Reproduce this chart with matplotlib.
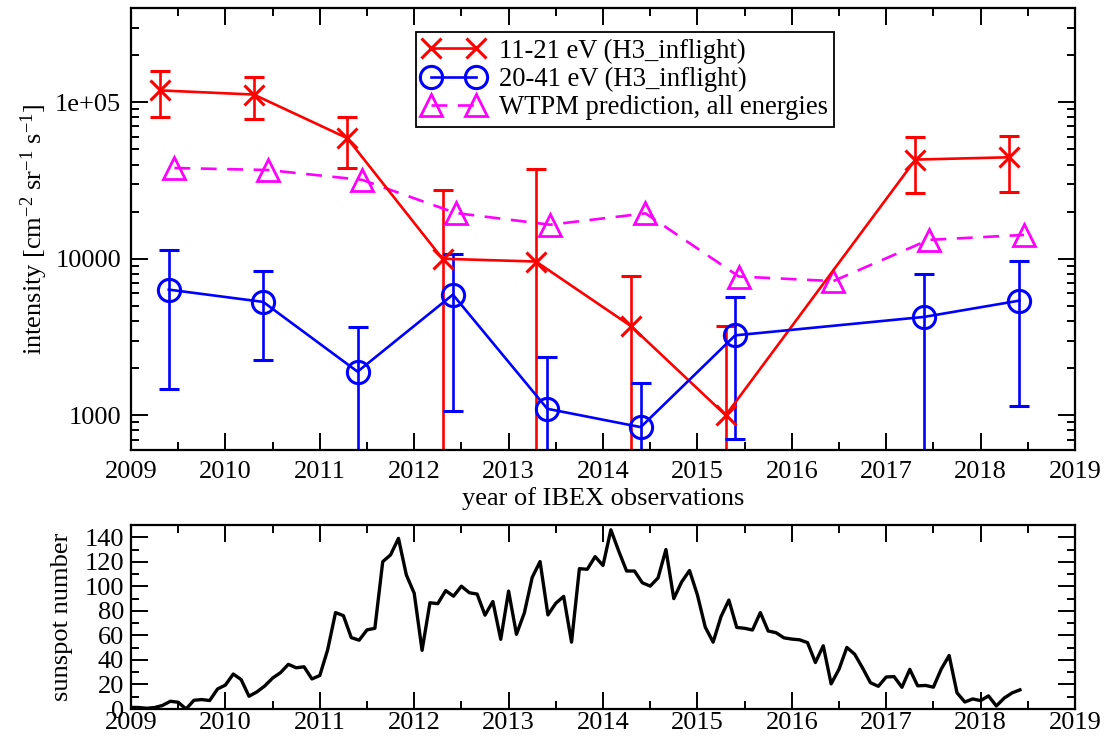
import numpy as np
import matplotlib
matplotlib.use("Agg")
import matplotlib.pyplot as plt
from matplotlib.lines import Line2D
from matplotlib.ticker import MultipleLocator, LogLocator, NullFormatter, FixedLocator

plt.rcParams["font.family"] = ["Liberation Serif", "DejaVu Serif"]
plt.rcParams["mathtext.fontset"] = "custom"
plt.rcParams["mathtext.rm"] = "Liberation Serif"
plt.rcParams["mathtext.it"] = "Liberation Serif:italic"

# --- IBEX intensities, 11-21 eV (H3_inflight)
red_t = [2009.31, 2010.30, 2011.29, 2012.30, 2013.29, 2014.30, 2015.30, 2017.31, 2018.30]
red_y = [1.19e5, 1.12e5, 5.9e4, 1.0e4, 9.6e3, 3.7e3, 1.0e3, 4.3e4, 4.45e4]
red_hi = [1.58e5, 1.46e5, 8.1e4, 2.76e4, 3.73e4, 7.8e3, 3.7e3, 5.96e4, 6.1e4]
red_lo = [8.0e4, 7.8e4, 3.8e4, 100, 100, 100, 100, 2.64e4, 2.68e4]

# --- IBEX intensities, 20-41 eV (H3_inflight)
blue_t = [2009.40, 2010.40, 2011.40, 2012.41, 2013.41, 2014.40, 2015.40, 2017.40, 2018.41]
blue_y = [6.35e3, 5.3e3, 1.9e3, 5.9e3, 1.1e3, 840, 3.24e3, 4.25e3, 5.4e3]
blue_hi = [1.14e4, 8.4e3, 3.65e3, 1.07e4, 2.35e3, 1.61e3, 5.7e3, 8.0e3, 9.7e3]
blue_lo = [1.48e3, 2.24e3, 100, 1.06e3, 100, 100, 703, 100, 1.15e3]

# --- WTPM prediction
wtpm_t = [2009.46, 2010.45, 2011.45, 2012.44, 2013.44, 2014.45, 2015.44, 2016.44, 2017.45, 2018.46]
wtpm_y = [3.8e4, 3.69e4, 3.19e4, 1.96e4, 1.65e4, 1.95e4, 7.7e3, 7.2e3, 1.32e4, 1.42e4]

# --- monthly sunspot number, Jan 2009 .. Jun 2018
sunspots = [
    1.3, 1.2, 0.6, 1.2, 2.9, 6.3, 5.5, 0.0, 7.1, 7.7, 6.9, 16.3,
    19.5, 28.5, 24.0, 10.4, 13.9, 18.8, 25.2, 29.6, 36.4, 33.6, 34.4, 24.5,
    27.3, 48.3, 78.6, 76.1, 58.2, 56.1, 64.5, 65.8, 120.1, 125.7, 139.1, 109.3,
    94.4, 47.8, 86.6, 85.9, 96.5, 92.0, 100.1, 94.8, 93.7, 76.5, 87.6, 56.8,
    96.1, 60.9, 78.3, 107.3, 120.2, 76.7, 86.2, 91.8, 54.5, 114.4, 113.9, 124.2,
    117.0, 146.1, 128.7, 112.5, 112.5, 102.9, 100.2, 106.9, 130.0, 90.0, 103.6, 112.9,
    93.0, 66.7, 54.5, 75.3, 88.8, 66.5, 65.8, 64.4, 78.6, 63.6, 62.2, 58.0,
    57.0, 56.4, 54.1, 37.9, 51.5, 20.5, 32.4, 50.2, 44.6, 33.4, 21.4, 18.5,
    26.1, 26.4, 17.7, 32.3, 18.9, 19.2, 17.8, 32.6, 43.6, 13.2, 5.7, 8.2,
    6.8, 10.7, 2.5, 8.9, 13.1, 15.6,
]
sun_t = 2009 + np.arange(len(sunspots)) / 12.0

years = list(range(2009, 2020))

W, H = 1106, 742
fig = plt.figure(figsize=(W / 100, H / 100), dpi=100)

def px_axes(l, t, r, b):
    return fig.add_axes([l / W, 1 - b / H, (r - l) / W, (b - t) / H])

ax = px_axes(131, 8, 1075, 450)
ax2 = px_axes(131, 525, 1075, 709)

FS = 19
LW = 1.9
CAP = 7

def style(a):
    for s in a.spines.values():
        s.set_linewidth(1.6)
    a.tick_params(which="both", direction="in", top=True, right=True,
                  labelsize=FS, width=1.4)
    a.tick_params(which="major", length=12)
    a.tick_params(which="minor", length=6)

def err(y, lo, hi):
    y = np.array(y)
    return [y - np.array(lo), np.array(hi) - y]

# top panel
red_kw = dict(color="red", lw=LW, marker="x", ms=14, mew=2.2)
blue_kw = dict(color="blue", lw=LW, marker="o", ms=16, mew=2.2, mfc="none")
wtpm_kw = dict(color="magenta", lw=LW, ls=(0, (6.0, 4.0)), marker="^", ms=16,
               mew=2.0, mfc="none")

ax.errorbar(red_t, red_y, yerr=err(red_y, red_lo, red_hi), capsize=CAP,
            capthick=LW, elinewidth=LW, **red_kw)
ax.errorbar(blue_t, blue_y, yerr=err(blue_y, blue_lo, blue_hi), capsize=CAP,
            capthick=LW, elinewidth=LW, **blue_kw)
ax.plot(wtpm_t, wtpm_y, **wtpm_kw)

ax.set_yscale("log")
ax.set_xlim(2009, 2019)
ax.set_ylim(600, 4e5)
ax.xaxis.set_major_locator(FixedLocator(years))
ax.xaxis.set_minor_locator(MultipleLocator(0.5))
ax.yaxis.set_major_locator(FixedLocator([1e3, 1e4, 1e5]))
ax.yaxis.set_minor_locator(LogLocator(base=10, subs=np.arange(2, 10), numticks=20))
ax.yaxis.set_minor_formatter(NullFormatter())
ax.set_yticklabels(["1000", "10000", "1e+05"])
ax.set_xticklabels([str(y) for y in years])
style(ax)
ax.tick_params(axis="x", pad=8)
ax.tick_params(axis="y", pad=7)
ax.set_xlabel("year of IBEX observations", fontsize=FS, labelpad=3)
ax.set_ylabel(r"intensity [cm$^{-2}$ sr$^{-1}$ s$^{-1}$]", fontsize=FS, labelpad=4)

handles = [Line2D([], [], **red_kw), Line2D([], [], **blue_kw), Line2D([], [], **wtpm_kw)]
labels = ["11-21 eV (H3_inflight)", "20-41 eV (H3_inflight)",
          "WTPM prediction, all energies"]
leg = ax.legend(handles, labels, loc="upper left", bbox_to_anchor=(0.302, 0.946),
                borderaxespad=0, fontsize=19.2, numpoints=2, handlelength=2.3,
                handletextpad=0.55, labelspacing=0.12, borderpad=0.25,
                fancybox=False, framealpha=1, edgecolor="black")
leg.get_frame().set_linewidth(1.3)

# bottom panel
ax2.plot(sun_t, sunspots, color="black", lw=2.4)
ax2.set_xlim(2009, 2019)
ax2.set_ylim(0, 150)
ax2.xaxis.set_major_locator(FixedLocator(years))
ax2.xaxis.set_minor_locator(MultipleLocator(0.5))
ax2.yaxis.set_major_locator(FixedLocator(range(0, 141, 20)))
ax2.yaxis.set_minor_locator(MultipleLocator(10))
ax2.set_xticklabels([str(y) for y in years])
style(ax2)
ax2.tick_params(axis="x", pad=2)
ax2.tick_params(axis="y", pad=5)
ax2.set_ylabel("sunspot number", fontsize=FS, labelpad=8)

fig.savefig("out.png", dpi=100)
